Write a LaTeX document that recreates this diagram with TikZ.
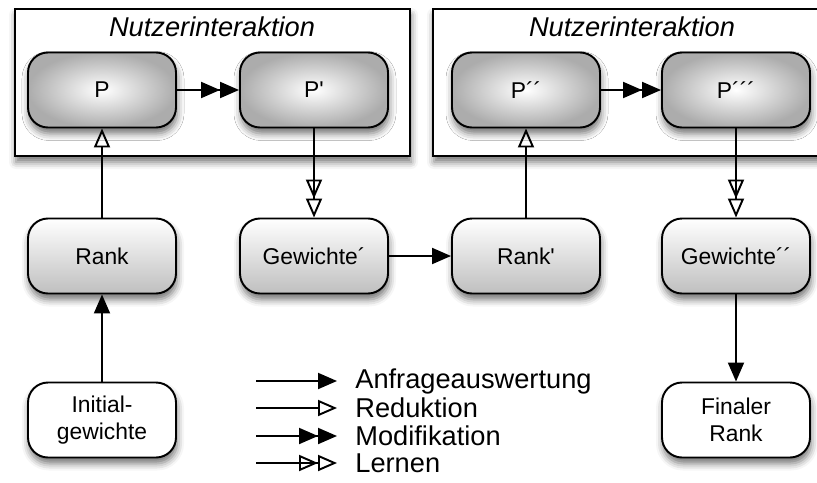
\documentclass[tikz,border=0pt]{standalone}
\usepackage{fontspec}
\setmainfont{Liberation Sans}
\usetikzlibrary{arrows.meta,shadows.blur}
\begin{document}
\begin{tikzpicture}
	\tikzset{
		base node/.style={rounded corners=0.4cm, draw, line width=1.1pt, minimum width=2.96cm, minimum height=1.5cm, align=center, font=\fontsize{13}{15.5}\selectfont, blur shadow={shadow xshift=0.02cm, shadow yshift=-0.12cm, shadow blur radius=0.14cm, shadow opacity=55}},
		inter node/.style={base node, inner color=white, outer color=gray!65},
		rank node/.style={base node, top color=white, bottom color=gray!50},
		end node/.style={base node, fill=white},
		frame node/.style={draw, line width=1.1pt, fill=white, minimum height=2.94cm, blur shadow={shadow xshift=0.02cm, shadow yshift=-0.12cm, shadow blur radius=0.14cm, shadow opacity=55}},
		title/.style={font=\fontsize{15.5}{18}\selectfont\itshape},
		legend text/.style={anchor=west, inner sep=0pt, font=\fontsize{15.5}{18}\selectfont},
		eval/.style={-{Triangle[length=0.38cm, width=0.32cm]}, line width=1.1pt},
		reduce/.style={-{Triangle[open, length=0.38cm, width=0.32cm]}, line width=1.1pt},
		modify/.style={-{Triangle[length=0.38cm, width=0.32cm] Triangle[length=0.38cm, width=0.32cm]}, line width=1.1pt},
		learn/.style={-{Triangle[open, length=0.38cm, width=0.32cm] Triangle[open, length=0.38cm, width=0.32cm]}, line width=1.1pt}
	}
	\useasboundingbox (0,0) rectangle (16.34,-9.64);
	% Interaction frames
	\node (f1) at (4.25,-1.65) [frame node, minimum width=7.9cm] {};
	\node (f2) at (12.55,-1.65) [frame node, minimum width=7.78cm] {};
	\node at (4.24,-0.54) [title] {Nutzerinteraktion};
	\node at (12.64,-0.54) [title] {Nutzerinteraktion};
	
	% Steps
	\node (p0) at (2.04,-1.8) [inter node] {P};
	\node (p1) at (6.28,-1.8) [inter node] {P\textquotesingle};
	\node (p2) at (10.52,-1.8) [inter node] {P´´};
	\node (p3) at (14.72,-1.8) [inter node] {P´´´};
	\node (r0) at (2.04,-5.12) [rank node] {Rank};
	\node (g1) at (6.28,-5.12) [rank node] {Gewichte´};
	\node (r1) at (10.52,-5.12) [rank node] {Rank\textquotesingle};
	\node (g2) at (14.72,-5.12) [rank node] {Gewichte´´};
	\node (init) at (2.04,-8.4) [end node] {Initial-\\gewichte};
	\node (final) at (14.72,-8.4) [end node] {Finaler\\Rank};
	
	\foreach \x/\y in {p0/p1, p2/p3} {
		\draw[modify] (\x) -- (\y);
	}
	\foreach \x/\y in {r0/p0, r1/p2} {
		\draw[reduce] (\x) -- (\y);
	}
	\foreach \x/\y in {p1/g1, p3/g2} {
		\draw[learn] (\x) -- (\y);
	}
	\foreach \x/\y in {init/r0, g1/r1, g2/final} {
		\draw[eval] (\x) -- (\y);
	}
	
	% Legend
	\foreach \name/\y/\txt/\kind in {a/-7.62/Anfrageauswertung/eval, b/-8.16/Reduktion/reduce, c/-8.72/Modifikation/modify, d/-9.26/Lernen/learn} {
		\coordinate (s\name) at (5.12,\y);
		\coordinate (e\name) at (6.74,\y);
		\node (l\name) at (7.1,\y) [legend text] {\txt};
		\draw[\kind] (s\name) -- (e\name);
	}
\end{tikzpicture}
\end{document}
